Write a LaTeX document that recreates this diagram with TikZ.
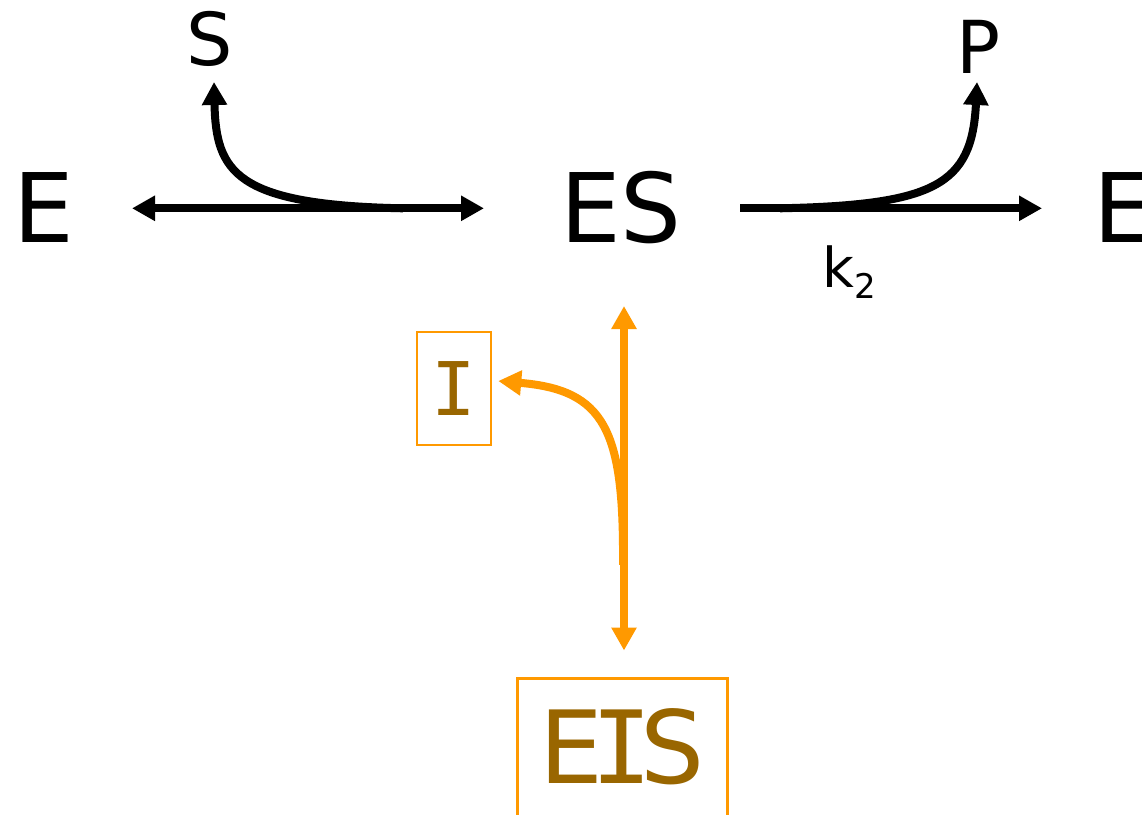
\documentclass[tikz,border=0pt]{standalone}
\usepackage{fontspec}
\setmainfont{DejaVu Sans}
\newfontfamily\serifI{DejaVu Sans Mono}
\usetikzlibrary{arrows.meta}
\definecolor{orng}{HTML}{FF9900}
\definecolor{brwn}{HTML}{996600}
\begin{document}
\begin{tikzpicture}[x=1pt,y=-1pt,
  >={Triangle[length=23pt,width=24pt]},
  big/.style={inner sep=0pt,anchor=base,font=\fontsize{96}{96}\selectfont},
  mid/.style={inner sep=0pt,anchor=base,font=\fontsize{73}{73}\selectfont},
  ibox/.style={draw=orng,line width=2.5pt,text=brwn,inner sep=0pt},
  blk/.style={line width=8pt,black},
  org/.style={line width=8pt,orng}]
\useasboundingbox (0,0) rectangle (1142,814);
% species
\node[big] (E1) at (43.5,242) {E};
\node[big] (ES) at (621,242) {ES};
\node[big,anchor=base west] (E2) at (1093.5,242) {E};
\node[mid] (S) at (210,65) {S};
\node[mid] (P) at (978,73) {P};
\node[inner sep=0pt,anchor=base west,font=\fontsize{55}{55}\selectfont] (k2) at (822.5,287)
  {k\raisebox{-11pt}{\fontsize{34}{34}\selectfont 2}};
\node[ibox,minimum width=74pt,minimum height=113pt,font=\fontsize{74}{74}\selectfont] (I) at (454,388.5) {\serifI I};
\node[ibox,line width=3pt,minimum width=210pt,minimum height=138pt,font=\fontsize{101}{101}\selectfont] (EIS) at (622,747)
  {E\kern-.12em{\serifI I}\kern-.12em S};
% junctions
\coordinate (sj) at (403,208.3);
\coordinate (pj) at (780,208.3);
\coordinate (ij) at (623,565);
% black reactions
\draw[blk,<->] ([shift={(88.5,-33.7)}]E1.base) -- ([shift={(-137,-33.7)}]ES.base);
\draw[blk,->] (sj) .. controls (235,205) and (216,172) .. ([shift={(4,17)}]S.base);
\draw[blk,->] ([shift={(119,-33.7)}]ES.base) -- ([shift={(-51.5,-33.7)}]E2.base west);
\draw[blk,->] (pj) .. controls (935,205) and (972,185) .. ([shift={(-1,9)}]P.base);
% orange inhibitor reaction
\draw[org,<->] ([shift={(3,64)}]ES.base) -- ([shift={(2,-26)}]EIS.north);
\draw[org,->] (ij) .. controls (624,430) and (605,390) .. ([shift={(6,-7.5)}]I.east);
\end{tikzpicture}
\end{document}
